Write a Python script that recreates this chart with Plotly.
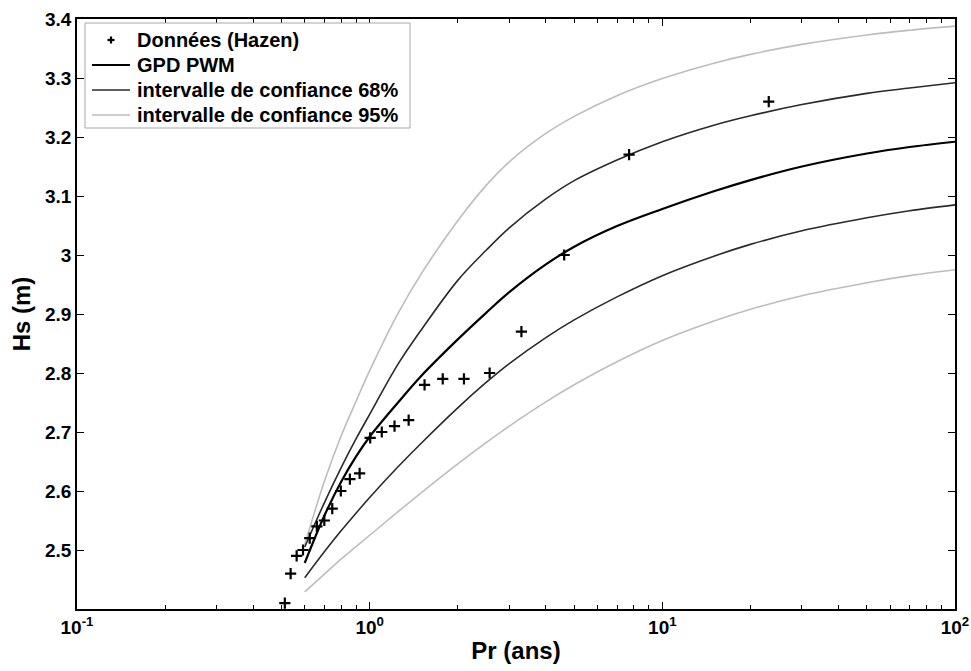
import plotly.graph_objects as go

# Data points (Hazen plotting positions)
pr_data = [0.513, 0.537, 0.563, 0.592, 0.624, 0.660, 0.700, 0.745, 0.797, 0.856,
           0.924, 1.004, 1.10, 1.216, 1.359, 1.54, 1.777, 2.10, 2.57, 3.30,
           4.62, 7.70, 23.1]
hs_data = [2.41, 2.46, 2.49, 2.50, 2.52, 2.54, 2.55, 2.57, 2.60, 2.62,
           2.63, 2.69, 2.70, 2.71, 2.72, 2.78, 2.79, 2.79, 2.80, 2.87,
           3.00, 3.17, 3.26]

# Fitted curves
pr_curve = [0.6, 0.7, 0.8, 0.9, 1.0, 1.25, 1.5, 2.0, 2.5, 3.0,
            4.0, 5.0, 7.0, 10, 15, 20, 30, 50, 70, 100]
gpd_pwm = [2.478, 2.558, 2.616, 2.659, 2.692, 2.750, 2.795, 2.857, 2.902, 2.937,
           2.984, 3.014, 3.049, 3.078, 3.108, 3.127, 3.150, 3.172, 3.183, 3.192]
ic68_up = [2.505, 2.580, 2.640, 2.689, 2.730, 2.815, 2.873, 2.957, 3.008, 3.046,
           3.095, 3.126, 3.161, 3.192, 3.220, 3.236, 3.255, 3.274, 3.283, 3.292]
ic68_lo = [2.453, 2.497, 2.533, 2.563, 2.589, 2.641, 2.681, 2.741, 2.784, 2.816,
           2.860, 2.890, 2.929, 2.965, 2.998, 3.018, 3.041, 3.063, 3.075, 3.085]
ic95_up = [2.509, 2.616, 2.694, 2.753, 2.804, 2.901, 2.968, 3.058, 3.118, 3.158,
           3.206, 3.235, 3.270, 3.299, 3.325, 3.340, 3.357, 3.373, 3.381, 3.388]
ic95_lo = [2.429, 2.459, 2.485, 2.506, 2.525, 2.565, 2.597, 2.646, 2.682, 2.710,
           2.751, 2.780, 2.819, 2.855, 2.888, 2.908, 2.931, 2.953, 2.965, 2.975]

y_ticks = [2.5, 2.6, 2.7, 2.8, 2.9, 3.0, 3.1, 3.2, 3.3, 3.4]
y_ticktext = ["2.5", "2.6", "2.7", "2.8", "2.9", "3", "3.1", "3.2", "3.3", "3.4"]
x_ticks = [0.1, 1, 10, 100]
x_ticktext = ["10<sup>-1</sup>", "10<sup>0</sup>", "10<sup>1</sup>", "10<sup>2</sup>"]
x_minor = [m * d for d in (0.1, 1, 10) for m in range(2, 10)]

legend_labels = ["Données (Hazen)", "GPD PWM",
                 "intervalle de confiance 68%", "intervalle de confiance 95%"]

GRAY95 = "#bdbdbd"
DARK68 = "#2a2a2a"
font_family = "Liberation Sans, Arial, sans-serif"

# plot-area geometry (pixels)
W, H = 971, 671
ML, MR, MT, MB = 77, 16, 19, 62
PW, PH = W - ML - MR, H - MT - MB

fig = go.Figure()
fig.add_trace(go.Scatter(x=pr_curve, y=ic95_up, mode="lines", line=dict(color=GRAY95, width=1.6, shape="spline"),
                         name=legend_labels[3]))
fig.add_trace(go.Scatter(x=pr_curve, y=ic95_lo, mode="lines", line=dict(color=GRAY95, width=1.6, shape="spline"),
                         name=legend_labels[3]))
fig.add_trace(go.Scatter(x=pr_curve, y=ic68_up, mode="lines", line=dict(color=DARK68, width=1.6, shape="spline"),
                         name=legend_labels[2]))
fig.add_trace(go.Scatter(x=pr_curve, y=ic68_lo, mode="lines", line=dict(color=DARK68, width=1.6, shape="spline"),
                         name=legend_labels[2]))
fig.add_trace(go.Scatter(x=pr_curve, y=gpd_pwm, mode="lines", line=dict(color="black", width=2.2, shape="spline"),
                         name=legend_labels[1]))
fig.add_trace(go.Scatter(x=pr_data, y=hs_data, mode="markers",
                         marker=dict(symbol="cross-thin", size=8, color="black", line=dict(width=2.2, color="black")),
                         name=legend_labels[0]))


def px2paper_x(px):
    return (px - ML) / PW


def px2paper_y(py):
    return (H - MB - py) / PH


# Legend drawn as a box with samples and real text
box_l, box_r, box_t, box_b = 85, 410, 23, 128
row0, row_step = 40, 25
samp_l, samp_r, text_x = 92, 130, 135
shapes = [dict(type="rect", xref="paper", yref="paper",
               x0=px2paper_x(box_l), x1=px2paper_x(box_r),
               y0=px2paper_y(box_b), y1=px2paper_y(box_t),
               line=dict(color="#a8a8a8", width=1), fillcolor="white", layer="above")]
annotations = []
sample_styles = [None, ("black", 2.2), (DARK68, 1.6), (GRAY95, 1.6)]
for i, lab in enumerate(legend_labels):
    ry = row0 + i * row_step
    if sample_styles[i] is None:
        cx = (samp_l + samp_r) / 2
        shapes.append(dict(type="line", xref="paper", yref="paper",
                           x0=px2paper_x(cx - 3.5), x1=px2paper_x(cx + 3.5),
                           y0=px2paper_y(ry), y1=px2paper_y(ry),
                           line=dict(color="black", width=2.2), layer="above"))
        shapes.append(dict(type="line", xref="paper", yref="paper",
                           x0=px2paper_x(cx), x1=px2paper_x(cx),
                           y0=px2paper_y(ry - 3.5), y1=px2paper_y(ry + 3.5),
                           line=dict(color="black", width=2.2), layer="above"))
    else:
        col, wid = sample_styles[i]
        shapes.append(dict(type="line", xref="paper", yref="paper",
                           x0=px2paper_x(samp_l), x1=px2paper_x(samp_r),
                           y0=px2paper_y(ry), y1=px2paper_y(ry),
                           line=dict(color=col, width=wid), layer="above"))
    annotations.append(dict(text=lab, xref="paper", yref="paper",
                            x=px2paper_x(text_x), y=px2paper_y(ry),
                            xanchor="left", yanchor="middle", showarrow=False,
                            font=dict(size=20, family=font_family, color="black", weight="bold")))

fig.update_layout(
    width=W, height=H,
    margin=dict(l=ML, r=MR, t=MT, b=MB),
    paper_bgcolor="white", plot_bgcolor="white",
    font=dict(family=font_family, color="black"),
    showlegend=False,
    shapes=shapes,
    annotations=annotations,
    xaxis=dict(type="log", range=[-1, 2], tickvals=x_ticks, ticktext=x_ticktext,
               automargin=False,
               ticks="inside", ticklen=7, tickwidth=1, tickcolor="black",
               showline=True, linecolor="black", linewidth=1.5, mirror="ticks",
               showgrid=False, zeroline=False,
               minor=dict(tickvals=x_minor, ticks="inside", ticklen=4, tickcolor="black", showgrid=False),
               tickfont=dict(size=19, weight="bold"),
               title=dict(text="Pr (ans)", font=dict(size=24, weight="bold"), standoff=6)),
    yaxis=dict(range=[2.4, 3.4], tickvals=y_ticks, ticktext=y_ticktext,
               automargin=False,
               ticks="inside", ticklen=7, tickwidth=1, tickcolor="black",
               showline=True, linecolor="black", linewidth=1.5, mirror="ticks",
               showgrid=False, zeroline=False,
               tickfont=dict(size=19, weight="bold"),
               title=dict(text="Hs (m)", font=dict(size=24, weight="bold"), standoff=8)),
)

fig.write_html("out.html")
